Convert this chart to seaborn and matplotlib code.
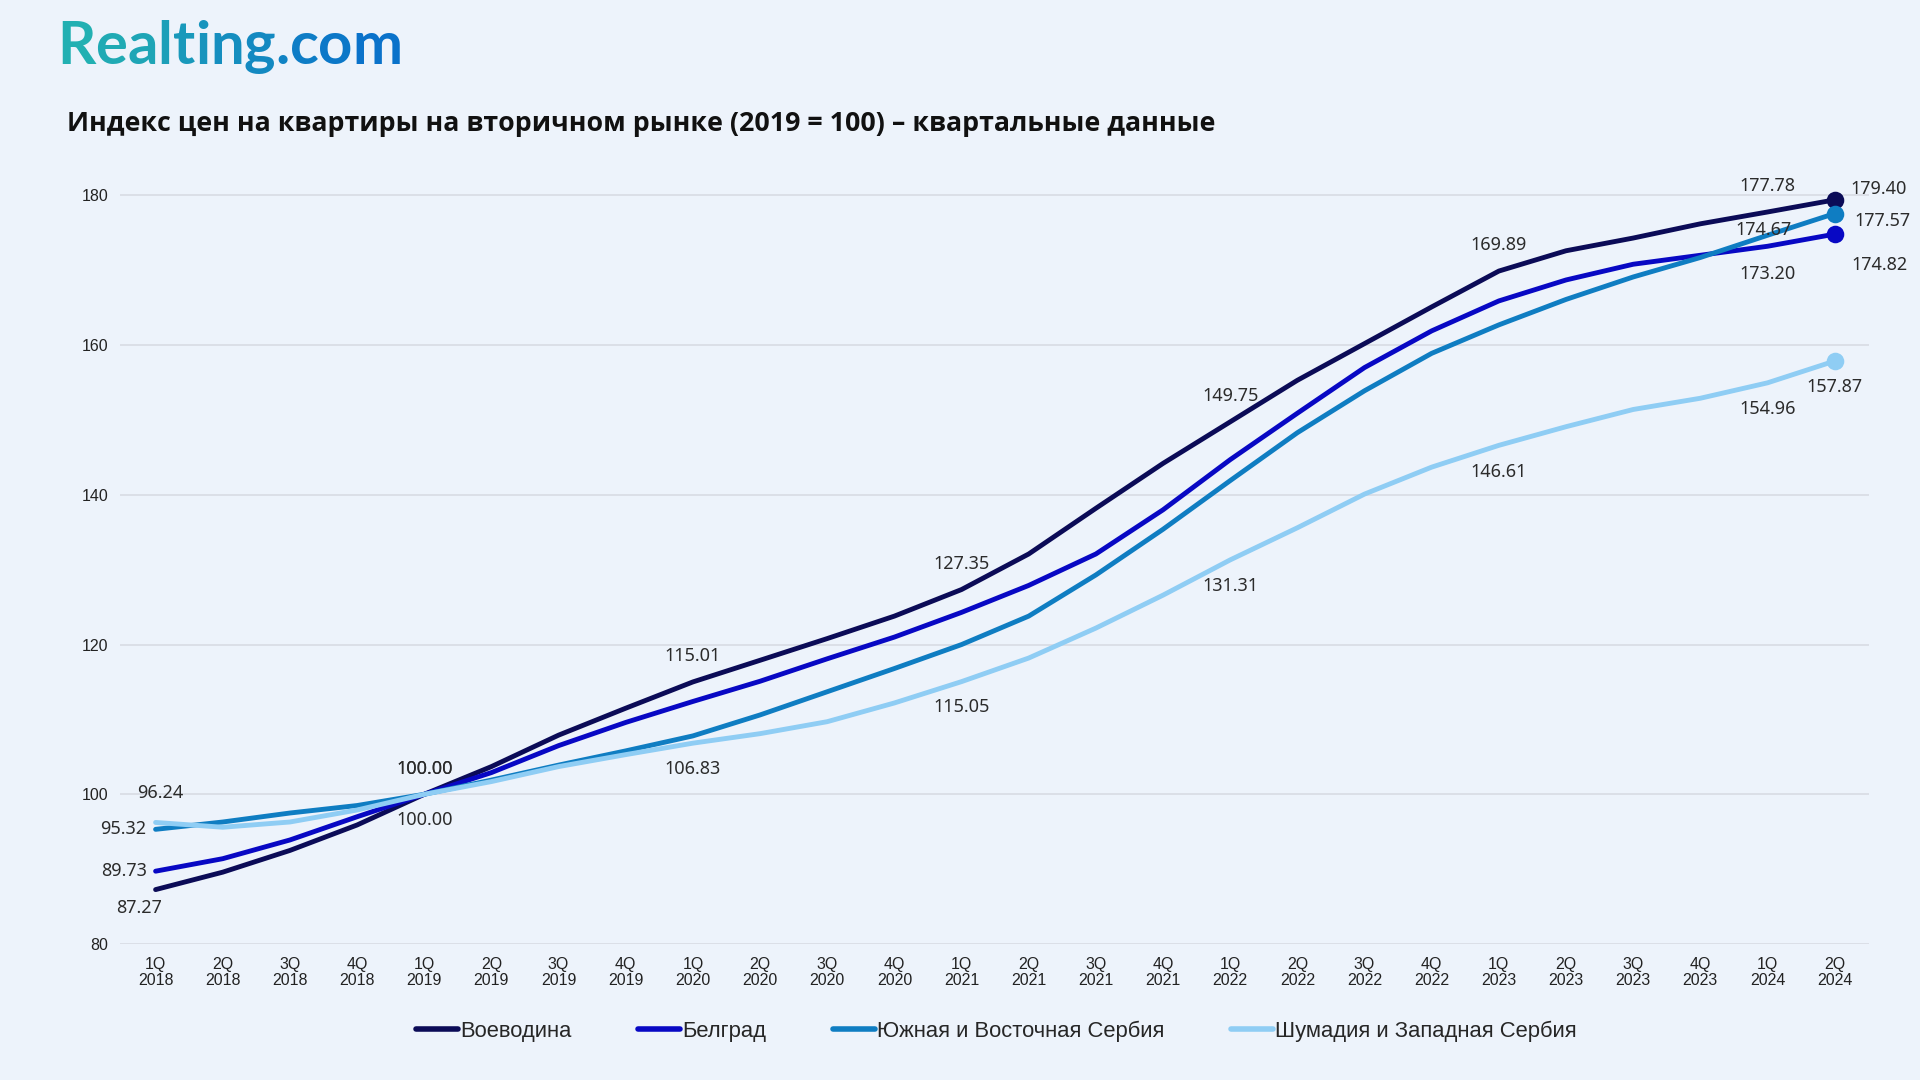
import matplotlib
matplotlib.use('Agg')
import matplotlib.pyplot as plt
import matplotlib.colors as mcolors
from matplotlib.lines import Line2D
import numpy as np
import pandas as pd
import seaborn as sns

# Data
quarters = [f'{q}Q\n{y}' for y in range(2018, 2025) for q in range(1, 5)][:26]

vojvodina = [87.27, 89.6, 92.5, 95.9, 100.00, 103.7, 107.9, 111.5, 115.01, 117.9,
             120.8, 123.8, 127.35, 132.1, 138.2, 144.2, 149.75, 155.3, 160.2, 165.1,
             169.89, 172.6, 174.3, 176.2, 177.78, 179.40]
belgrade = [89.73, 91.4, 93.9, 97.0, 100.00, 102.9, 106.5, 109.6, 112.4, 115.1,
            118.1, 121.0, 124.3, 127.9, 132.1, 138.0, 144.7, 150.9, 157.0, 161.9,
            165.9, 168.7, 170.8, 172.0, 173.20, 174.82]
south_east = [95.32, 96.3, 97.5, 98.5, 100.00, 101.9, 103.9, 105.8, 107.8, 110.6,
              113.7, 116.8, 120.0, 123.8, 129.3, 135.4, 141.9, 148.3, 153.9, 158.9,
              162.7, 166.1, 169.1, 171.7, 174.67, 177.57]
sumadija = [96.24, 95.6, 96.3, 97.9, 100.00, 101.7, 103.7, 105.3, 106.83, 108.1,
            109.7, 112.2, 115.05, 118.2, 122.2, 126.6, 131.31, 135.6, 140.1, 143.7,
            146.61, 149.1, 151.4, 152.9, 154.96, 157.87]

regions = ['Воеводина', 'Белград', 'Южная и Восточная Сербия', 'Шумадия и Западная Сербия']
series = dict(zip(regions, [vojvodina, belgrade, south_east, sumadija]))
colors = ['#0b0b57', '#0808c4', '#0f7dc2', '#8fcdf4']

# data labels: region, quarter index, offset (points), alignment
labels = [
    (regions[3], 0, 3, 21, 'center'), (regions[2], 0, -7, 0, 'right'),
    (regions[1], 0, -6, 0, 'right'), (regions[0], 0, -12, -13, 'center'),
    (regions[0], 4, 0, 18.5, 'center'), (regions[1], 4, 0, 18.5, 'center'),
    (regions[3], 4, 0, -18.5, 'center'),
    (regions[0], 8, 0, 18.5, 'center'), (regions[3], 8, 0, -18.5, 'center'),
    (regions[0], 12, 0, 18.5, 'center'), (regions[3], 12, 0, -18.5, 'center'),
    (regions[0], 16, 0, 18.5, 'center'), (regions[3], 16, 0, -19, 'center'),
    (regions[0], 20, 0, 18.5, 'center'), (regions[3], 20, 0, -19, 'center'),
    (regions[0], 24, 0, 19, 'center'), (regions[2], 24, -3, 4, 'center'),
    (regions[1], 24, 0, -20, 'center'), (regions[3], 24, 0, -19, 'center'),
    (regions[0], 25, 11, 8, 'left'), (regions[2], 25, 14, -5, 'left'),
    (regions[1], 25, 12, -22, 'left'), (regions[3], 25, 0, -19, 'center'),
]

df = pd.DataFrame(series)
df['idx'] = range(len(quarters))
df_long = df.melt(id_vars='idx', var_name='region', value_name='value')

bg = '#edf3fb'
sns.set_style('white')
plt.rcParams['font.family'] = ['Liberation Sans', 'DejaVu Sans']

fig = plt.figure(figsize=(19.2, 10.8), dpi=100, facecolor=bg)
ax = fig.add_axes([0.0625, 0.1259, 0.9109, 0.714])
ax.set_facecolor(bg)

sns.lineplot(data=df_long, x='idx', y='value', hue='region', hue_order=regions,
             palette=colors, linewidth=3.5, ax=ax, legend=False, zorder=3)

# end-point markers
for name, c in zip(regions, colors):
    ax.scatter(len(quarters) - 1, series[name][-1], s=160, color=c, zorder=5, linewidths=0)

# data labels
for name, i, dx, dy, ha in labels:
    ax.annotate(f'{series[name][i]:.2f}', xy=(i, series[name][i]), xytext=(dx, dy),
                textcoords='offset points', ha=ha, va='center', fontsize=13,
                color='#2b2b2b', family=['Noto Sans', 'DejaVu Sans'], zorder=6)

ax.set_xlim(-0.53, 25.51)
ax.set_ylim(80, 183)
ax.set_yticks([80, 100, 120, 140, 160, 180])
ax.set_xticks(range(len(quarters)))
ax.set_xticklabels(quarters, fontsize=11.5, color='#222222', linespacing=1.15)
ax.tick_params(axis='y', labelsize=11.5, labelcolor='#222222', pad=8.5, length=0)
ax.tick_params(axis='x', pad=9, length=0)
ax.grid(axis='y', color='#d8dce3', linewidth=1.2)
ax.set_xlabel('')
ax.set_ylabel('')
sns.despine(ax=ax, left=True, bottom=True)

# legend
handles = [Line2D([0], [0], color=c, lw=4) for c in colors]
fig.legend(handles, regions, loc='center', bbox_to_anchor=(0.519, 1 - 1031 / 1080), ncol=4,
           frameon=False, fontsize=15.8, handlelength=1.9, handletextpad=0.1,
           columnspacing=3.05)

# title
fig.text(67 / 1920, 1 - 124 / 1080,
         'Индекс цен на квартиры на вторичном рынке (2019 = 100) – квартальные данные',
         fontsize=19.3, fontweight='bold', va='center', color='#111111',
         family=['Open Sans', 'DejaVu Sans'])

# logo with a teal-to-blue gradient
logo = 'Realting.com'
cmap = mcolors.LinearSegmentedColormap.from_list('logo', ['#22b0b2', '#0a72ca'])
shades = [cmap(v) for v in np.linspace(0, 1, len(logo))]
prev = fig.text(57 / 1920, 1 - 74 / 1080, logo[0], fontsize=43, fontweight='bold',
                color=shades[0], va='bottom', family=['Lato', 'DejaVu Sans'])
for ch, c in zip(logo[1:], shades[1:]):
    prev = ax.annotate(ch, xy=(1, 0), xycoords=prev, ha='left', va='bottom',
                       fontsize=43, fontweight='bold', color=c,
                       family=['Lato', 'DejaVu Sans'], annotation_clip=False)

fig.savefig('out.png', dpi=100, facecolor=bg)
